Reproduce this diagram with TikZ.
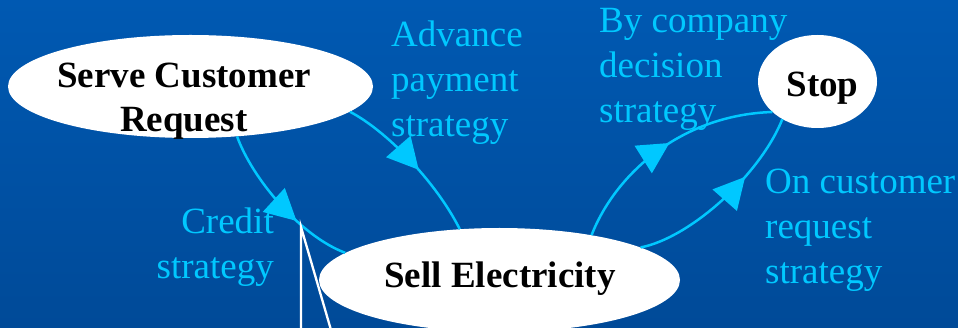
\documentclass[tikz,border=0pt]{standalone}
\usepackage{fontspec}
\setmainfont{Liberation Serif}
\usetikzlibrary{shapes.geometric,arrows.meta,decorations.markings}
\definecolor{cyanl}{RGB}{0,200,255}
\definecolor{bgtop}{RGB}{0,89,178}
\definecolor{bgbot}{RGB}{0,74,152}
\begin{document}
\begin{tikzpicture}[x=1pt,y=-1pt,
  state/.style={ellipse,fill=white,draw=none,inner sep=0pt},
  nodetext/.style={font=\fontsize{37}{44}\selectfont\bfseries,text=black,align=center,inner sep=0pt,anchor=base},
  lbl/.style={font=\fontsize{37}{45}\selectfont,text=cyanl,inner sep=0pt},
  flow/.style={draw=cyanl,line width=2.5pt},
  midarrow/.style={postaction={decorate},decoration={markings,mark=at position #1 with {\arrow{Triangle[length=31pt,width=32pt]}}}},
  wire/.style={draw=white,line width=2.3pt}
]
\useasboundingbox (0,0) rectangle (958,328);
\shade[top color=bgtop,bottom color=bgbot] (0,0) rectangle (958,328);

\node[state,minimum width=365pt,minimum height=103pt] (serve) at (190.5,86.5) {};
\node[nodetext] (servet) at (184,131.7) {Serve Customer\\Request};
\node[state,minimum width=361pt,minimum height=104pt] (sell) at (499.5,280) {};
\node[nodetext] (sellt) at (500,287.3) {Sell Electricity};
\node[state,minimum width=119pt,minimum height=93pt] (stop) at (817.5,81.5) {};
\node[nodetext] (stopt) at (822.5,96.7) {Stop};

\node[lbl,align=left,anchor=base west] (advl) at (391,137) {Advance\\payment\\strategy};
\node[lbl,align=left,anchor=base west] (byl) at (599,123) {By company\\decision\\strategy};
\node[lbl,align=left,anchor=base west] (onl) at (765,283.5) {On customer\\request\\strategy};
\node[lbl,align=right,anchor=base east] (crl) at (274,278.3) {Credit\\strategy};

\draw[flow,midarrow=0.64] (serve.-47) .. controls (252,178) and (300,236) .. (sell.170);
\draw[flow,midarrow=0.556] (serve.-9) .. controls (385,130) and (435,180) .. (sell.128);
\draw[flow,midarrow=0.53] (sell.26) .. controls (615,175) and (680,115) .. (stop.214);
\draw[flow,midarrow=0.65] (sell.13) .. controls (690,238) and (760,175) .. (stop.227);

\coordinate (wj) at (301,227);
\coordinate (wa) at (301,330);
\coordinate (wb) at (331,330);
\draw[wire] (wa) -- (wj) -- (wb);
\end{tikzpicture}
\end{document}
